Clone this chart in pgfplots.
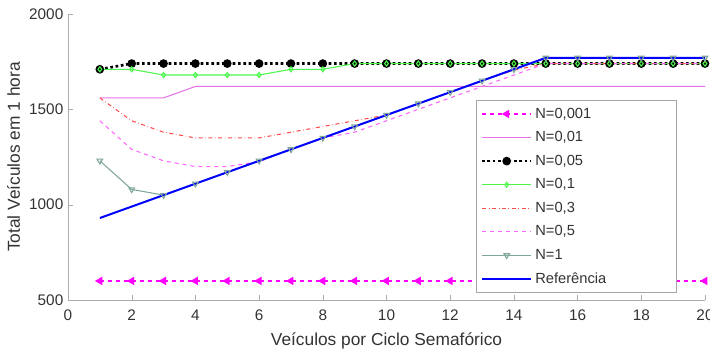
\documentclass[border=0pt]{standalone}
\usepackage{pgfplots}
\pgfplotsset{compat=1.18}
\usepackage{fontspec}
\setmainfont{Liberation Sans}
\definecolor{cA}{rgb}{1,0,1}
\definecolor{cB}{rgb}{0.9,0.45,0.9}
\definecolor{cD}{rgb}{0.3,0.97,0.3}
\definecolor{cE}{rgb}{1,0.3,0.3}
\definecolor{cF}{rgb}{1,0.4,1}
\definecolor{cG}{rgb}{0.5,0.65,0.6}
\definecolor{txt}{gray}{0.2}
\newcommand\legtxt[1]{\makebox[101pt][l]{#1}}
\begin{document}
\begin{tikzpicture}
\begin{axis}[
  scale only axis, width=477.75pt, height=214.5pt,
  xmin=0, xmax=20, ymin=500, ymax=2000,
  xtick={0,2,...,20}, ytick={500,1000,1500,2000},
  axis x line*=bottom, axis y line*=left,
  axis line style={draw=gray!65, -},
  tick style={draw=gray!65},
  tick align=inside, major tick length=3.75pt,
  ticklabel style={font=\fontsize{11.5}{13}\selectfont, text=txt},
  xticklabel style={yshift=-4pt},
  /pgf/number format/assume math mode=true,
  /pgf/number format/1000 sep={},
  xlabel={Veículos por Ciclo Semafórico},
  ylabel={Total Veículos em 1 hora},
  xlabel style={yshift=-2pt},
  label style={font=\fontsize{13}{15}\selectfont, text=txt},
  legend cell align=left,
  legend style={at={(0.956,0.0245)}, anchor=south east, draw=gray!70,
    font=\fontsize{11}{13}\selectfont, text=txt, row sep=4.5pt,
    inner xsep=3pt, inner ysep=3.5pt},
  legend image code/.code={\draw[mark repeat=2,mark phase=2] plot coordinates {(0pt,0pt) (18.5pt,0pt) (37pt,0pt)};},
]
\addplot[cA, dashed, line width=1.5pt, mark=triangle*, mark size=2.2pt, mark options={solid, rotate=90, fill=cA}]
coordinates {(1,600)(2,600)(3,600)(4,600)(5,600)(6,600)(7,600)(8,600)(9,600)(10,600)(11,600)(12,600)(13,600)(14,600)(15,600)(16,600)(17,600)(18,600)(19,600)(20,600)};
\addlegendentry{\legtxt{N=0,001}}
\addplot[cB, line width=0.8pt]
coordinates {(1,1560)(2,1560)(3,1560)(4,1620)(5,1620)(6,1620)(7,1620)(8,1620)(9,1620)(10,1620)(11,1620)(12,1620)(13,1620)(14,1620)(15,1620)(16,1620)(17,1620)(18,1620)(19,1620)(20,1620)};
\addlegendentry{\legtxt{N=0,01}}
\addplot[black, dotted, line width=2pt, mark=*, mark size=2.2pt, mark options={solid, fill=black}]
coordinates {(1,1710)(2,1740)(3,1740)(4,1740)(5,1740)(6,1740)(7,1740)(8,1740)(9,1740)(10,1740)(11,1740)(12,1740)(13,1740)(14,1740)(15,1740)(16,1740)(17,1740)(18,1740)(19,1740)(20,1740)};
\addlegendentry{\legtxt{N=0,05}}
\addplot[cD, line width=0.8pt, mark=diamond, mark size=1.9pt, mark options={solid}]
coordinates {(1,1710)(2,1710)(3,1680)(4,1680)(5,1680)(6,1680)(7,1710)(8,1710)(9,1740)(10,1740)(11,1740)(12,1740)(13,1740)(14,1740)(15,1740)(16,1740)(17,1740)(18,1740)(19,1740)(20,1740)};
\addlegendentry{\legtxt{N=0,1}}
\addplot[cE, dash dot, line width=0.8pt]
coordinates {(1,1560)(2,1440)(3,1380)(4,1350)(5,1350)(6,1350)(7,1380)(8,1410)(9,1440)(10,1470)(11,1530)(12,1590)(13,1650)(14,1705)(15,1740)(16,1740)(17,1740)(18,1740)(19,1740)(20,1740)};
\addlegendentry{\legtxt{N=0,3}}
\addplot[cF, dashed, line width=0.8pt]
coordinates {(1,1440)(2,1290)(3,1230)(4,1200)(5,1200)(6,1225)(7,1290)(8,1350)(9,1380)(10,1440)(11,1500)(12,1560)(13,1620)(14,1680)(15,1740)(16,1740)(17,1740)(18,1740)(19,1740)(20,1740)};
\addlegendentry{\legtxt{N=0,5}}
\addplot[cG, line width=0.8pt, mark=triangle, mark size=2.4pt, mark options={solid, rotate=180}]
coordinates {(1,1230)(2,1080)(3,1050)(4,1110)(5,1170)(6,1230)(7,1290)(8,1350)(9,1410)(10,1470)(11,1530)(12,1590)(13,1650)(14,1710)(15,1770)(16,1770)(17,1770)(18,1770)(19,1770)(20,1770)};
\addlegendentry{\legtxt{N=1}}
\addplot[blue, line width=1.5pt]
coordinates {(1,930)(2,990)(3,1050)(4,1110)(5,1170)(6,1230)(7,1290)(8,1350)(9,1410)(10,1470)(11,1530)(12,1590)(13,1650)(14,1710)(15,1770)(16,1770)(17,1770)(18,1770)(19,1770)(20,1770)};
\addlegendentry{\legtxt{Referência}}
\end{axis}
\path (current axis.south west) ++(-51pt,-40.5pt) coordinate (bl);
\path (current axis.north east) ++(3.75pt,10.5pt) coordinate (tr);
\pgfresetboundingbox
\useasboundingbox (bl) rectangle (tr);
\end{tikzpicture}
\end{document}
